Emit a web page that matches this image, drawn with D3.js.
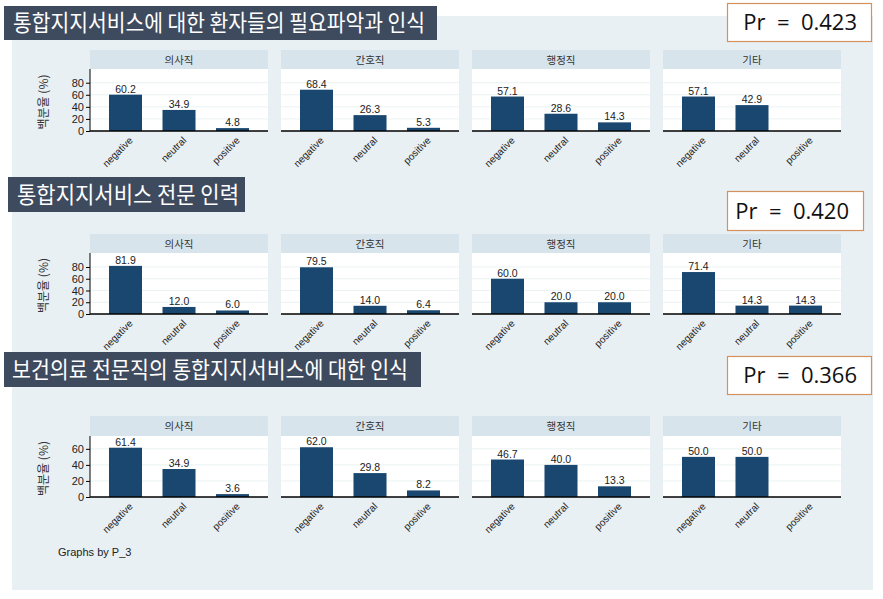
<!DOCTYPE html>
<html>
<head>
<meta charset="utf-8">
<script src="https://cdn.jsdelivr.net/npm/d3@7"></script>
<style>
  body { margin: 0; background: #fff; }
  svg { display: block; }
</style>
</head>
<body>
<div id="chart"></div>
<script>
// data
var categories = ["negative", "neutral", "positive"];
var groups = ["의사직", "간호직", "행정직", "기타"];
var titles = [
  "통합지지서비스에  대한 환자들의 필요파악과  인식",
  "통합지지서비스 전문 인력",
  "보건의료 전문직의 통합지지서비스에  대한 인식"
];
var pValues = ["0.423", "0.420", "0.366"];
var values1 = [[60.2, 34.9, 4.8], [68.4, 26.3, 5.3], [57.1, 28.6, 14.3], [57.1, 42.9, 0]];
var values2 = [[81.9, 12.0, 6.0], [79.5, 14.0, 6.4], [60.0, 20.0, 20.0], [71.4, 14.3, 14.3]];
var values3 = [[61.4, 34.9, 3.6], [62.0, 29.8, 8.2], [46.7, 40.0, 13.3], [50.0, 50.0, 0]];
var ticks1 = [0, 20, 40, 60, 80];
var ticks2 = [0, 20, 40, 60, 80];
var ticks3 = [0, 20, 40, 60];
var yLabel = "백분율 (%)";
var note = "Graphs by P_3";

var width = 883, height = 599;
var barColor = "#1a476f";

var svg = d3.select("#chart")
  .append("svg")
  .attr("width", width)
  .attr("height", height);

// light background panel
svg.append("rect")
  .attr("x", 12).attr("y", 16)
  .attr("width", 861).attr("height", 574)
  .attr("fill", "#e9f0f3");

// one row per question
var rows = [
  { values: values1, ticks: ticks1, yMax: 102.7, header: 50, top: 69, axis: 131,
    title: { x: 4, y: 6, w: 433, h: 34, tx: 13, tl: 412 },
    pr: { x: 727, y: 3, w: 144, h: 38 } },
  { values: values2, ticks: ticks2, yMax: 103.8, header: 234, top: 253, axis: 314,
    title: { x: 8, y: 177, w: 237, h: 35, tx: 17, tl: 222 },
    pr: { x: 727, y: 191, w: 136, h: 39 } },
  { values: values3, ticks: ticks3, yMax: 76, header: 416, top: 436, axis: 497,
    title: { x: 4, y: 352, w: 417, h: 35, tx: 12, tl: 396 },
    pr: { x: 727, y: 356, w: 144, h: 38 } }
];

var facetX = d3.scaleBand()
  .domain(groups)
  .range([90, 841])
  .paddingInner(0.068);

var x = d3.scaleBand()
  .domain(categories)
  .range([0, facetX.bandwidth()])
  .paddingInner(0.383)
  .paddingOuter(0.355);

rows.forEach(function(r, ri) {
  var g = svg.append("g");

  var y = d3.scaleLinear()
    .domain([0, r.yMax])
    .range([r.axis, r.top]);

  groups.forEach(function(grp, gi) {
    var fx = facetX(grp);
    var fw = facetX.bandwidth();
    var f = g.append("g").attr("transform", "translate(" + fx + ",0)");

    // header strip
    f.append("rect")
      .attr("x", 0).attr("y", r.header)
      .attr("width", fw).attr("height", r.top - r.header)
      .attr("fill", "#d7e4eb");
    f.append("text")
      .attr("x", fw / 2).attr("y", (r.header + r.top) / 2 + 4)
      .attr("text-anchor", "middle")
      .attr("font-family", "Noto Sans CJK KR")
      .attr("font-size", 10.5)
      .attr("fill", "#333")
      .text(grp);

    // plot area
    f.append("rect")
      .attr("x", 0).attr("y", r.top)
      .attr("width", fw).attr("height", r.axis - r.top)
      .attr("fill", "#fff");

    f.selectAll(".grid")
      .data(r.ticks.filter(function(t) { return t > 0; }))
      .enter()
      .append("line")
        .attr("x1", 0).attr("x2", fw)
        .attr("y1", function(d) { return y(d); })
        .attr("y2", function(d) { return y(d); })
        .attr("stroke", "#eaf2f3")
        .attr("stroke-width", 1);

    var vals = r.values[gi];

    f.selectAll(".bar")
      .data(vals)
      .enter()
      .append("rect")
        .attr("x", function(d, i) { return x(categories[i]); })
        .attr("y", function(d) { return y(d); })
        .attr("width", x.bandwidth())
        .attr("height", function(d) { return r.axis - y(d); })
        .attr("fill", barColor);

    f.selectAll(".val")
      .data(vals)
      .enter()
      .append("text")
        .filter(function(d) { return d > 0; })
        .attr("x", function(d, i) { return x(categories[i]) + x.bandwidth() / 2; })
        .attr("y", function(d) { return y(d) - 2; })
        .attr("text-anchor", "middle")
        .attr("font-family", "Liberation Sans")
        .attr("font-size", 10.5)
        .attr("fill", "#222")
        .text(function(d) { return d.toFixed(1); });

    // x axis line
    f.append("line")
      .attr("x1", 0).attr("x2", fw)
      .attr("y1", r.axis).attr("y2", r.axis)
      .attr("stroke", "#000")
      .attr("stroke-width", 1.3);

    // rotated category labels
    f.selectAll(".cat")
      .data(categories)
      .enter()
      .append("text")
        .attr("transform", function(d) {
          return "translate(" + (x(d) + x.bandwidth() / 2 + 3) + "," + (r.axis + 5) + ") rotate(-45)";
        })
        .attr("text-anchor", "end")
        .attr("dy", "0.7em")
        .attr("font-family", "Liberation Sans")
        .attr("font-size", 10)
        .attr("fill", "#222")
        .text(function(d) { return d; });
  });

  // y axis on first facet
  var yAxis = d3.axisLeft(y)
    .tickValues(r.ticks)
    .tickSize(4)
    .tickPadding(2);
  var ya = g.append("g")
    .attr("transform", "translate(" + facetX(groups[0]) + ",0)")
    .call(yAxis);
  ya.select(".domain").attr("d", "M0," + r.top + "V" + r.axis).attr("stroke", "#000");
  ya.selectAll(".tick line").attr("stroke", "#000");
  ya.selectAll(".tick text")
    .attr("font-family", "Liberation Sans Narrow, Liberation Sans")
    .attr("font-size", 11)
    .attr("fill", "#222");

  g.append("text")
    .attr("transform", "translate(48," + ((r.top + r.axis) / 2 + 2) + ") rotate(-90)")
    .attr("text-anchor", "middle")
    .attr("font-family", "Noto Sans CJK KR")
    .attr("font-size", 12)
    .attr("fill", "#333")
    .text(yLabel);

  // title box
  var t = r.title;
  g.append("rect")
    .attr("x", t.x).attr("y", t.y)
    .attr("width", t.w).attr("height", t.h)
    .attr("fill", "#3e4a5e");
  g.append("text")
    .attr("x", t.tx).attr("y", t.y + t.h / 2 + 8)
    .attr("font-family", "Noto Sans CJK KR")
    .attr("font-size", 23)
    .attr("fill", "#fff")
    .attr("textLength", t.tl)
    .attr("lengthAdjust", "spacingAndGlyphs")
    .text(titles[ri]);

  // Pr box
  var p = r.pr;
  g.append("rect")
    .attr("x", p.x + 0.5).attr("y", p.y + 0.5)
    .attr("width", p.w).attr("height", p.h)
    .attr("fill", "#fff")
    .attr("stroke", "#d3915e")
    .attr("stroke-width", 1.2);
  g.append("text")
    .attr("x", p.x + p.w - 14).attr("y", p.y + p.h / 2 + 8)
    .attr("text-anchor", "end")
    .attr("font-family", "Open Sans")
    .attr("font-size", 22)
    .attr("fill", "#111")
    .attr("xml:space", "preserve")
    .text("Pr  =  " + pValues[ri]);
});

svg.append("text")
  .attr("x", 58).attr("y", 556)
  .attr("font-family", "Liberation Sans")
  .attr("font-size", 11)
  .attr("fill", "#222")
  .text(note);
</script>
</body>
</html>
